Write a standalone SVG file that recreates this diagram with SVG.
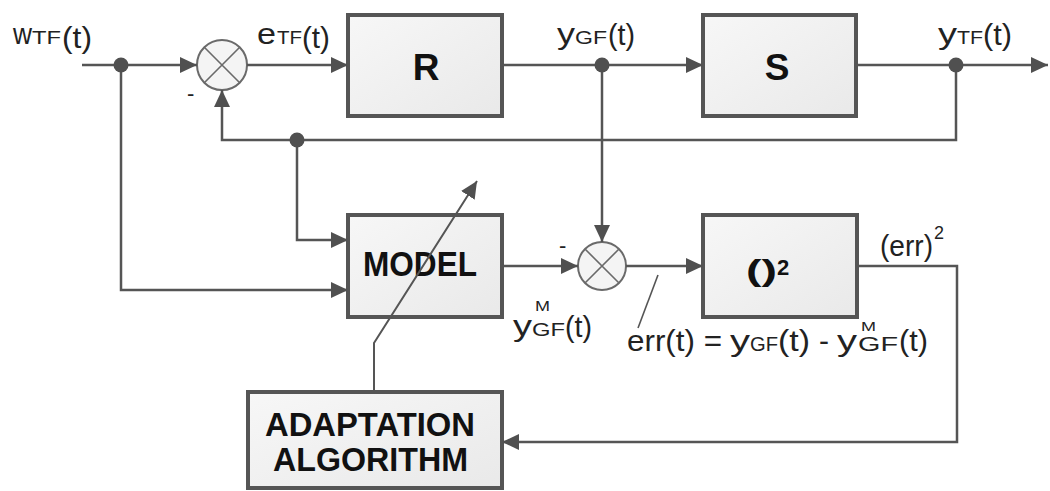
<svg xmlns="http://www.w3.org/2000/svg" width="1050" height="491" viewBox="0 0 1050 491">
<style>
.box{fill:url(#bg);stroke:#555;stroke-width:4}
.ln{fill:none;stroke:#555;stroke-width:2.5}
.ar{marker-end:url(#ah)}
.dot{fill:#505050}
.sum{fill:#f4f4f4;stroke:#6a6a6a;stroke-width:2}
.x{stroke:#6a6a6a;stroke-width:1.6}
.t{font-family:"Liberation Sans",Arial,sans-serif;fill:#222}
.bl{font-family:"Liberation Sans",Arial,sans-serif;font-weight:bold;fill:#111}
</style>
<defs>
<linearGradient id="bg" x1="0" y1="0" x2="1" y2="1">
<stop offset="0" stop-color="#f7f7f7"/>
<stop offset="1" stop-color="#e9e9e9"/>
</linearGradient>
<marker id="ah" markerUnits="userSpaceOnUse" markerWidth="18" markerHeight="16" refX="17" refY="8" orient="auto">
<path d="M0,0 L17,8 L0,16 z" fill="#505050"/>
</marker>
</defs>
<rect width="1050" height="491" fill="#fff"/>

<g id="sum1">
<circle class="sum" cx="222" cy="65" r="25"/>
<path class="x" d="M204.3,47.3 L239.7,82.7 M239.7,47.3 L204.3,82.7"/>
<text class="t" x="187" y="101" font-size="22">-</text>
</g>

<g id="sum2">
<circle class="sum" cx="602" cy="266" r="24"/>
<path class="x" d="M585,249 L619,283 M619,249 L585,283"/>
<text class="t" x="559" y="253" font-size="22">-</text>
</g>

<g id="R">
<rect class="box" x="348" y="15" width="154" height="101"/>
<text class="bl" x="426" y="80" font-size="37" text-anchor="middle">R</text>
</g>

<g id="S">
<rect class="box" x="703" y="15" width="153" height="101"/>
<text class="bl" x="777" y="80" font-size="37" text-anchor="middle">S</text>
</g>

<g id="MODEL">
<rect class="box" x="348" y="215" width="154" height="102"/>
<text class="bl" x="363" y="276" font-size="35" textLength="114" lengthAdjust="spacingAndGlyphs">MODEL</text>
</g>

<g id="SQUARE">
<rect class="box" x="703" y="215" width="154" height="102"/>
<text class="bl" x="746" y="281" font-size="29" textLength="31" lengthAdjust="spacingAndGlyphs">()</text>
<text class="bl" x="777" y="275" font-size="22">2</text>
</g>

<g id="ADAPTATION">
<rect class="box" x="248" y="392" width="254" height="96"/>
<text class="bl" x="265" y="436" font-size="33" textLength="210" lengthAdjust="spacingAndGlyphs">ADAPTATION</text>
<text class="bl" x="273" y="471" font-size="33" textLength="195" lengthAdjust="spacingAndGlyphs">ALGORITHM</text>
</g>

<g id="connectors">
<path class="ln ar" d="M82,65 H197"/>
<path class="ln ar" d="M247,65 H348"/>
<path class="ln ar" d="M502,65 H703"/>
<path class="ln ar" d="M856,65 H1048"/>
<path class="ln ar" d="M956,65 V140 H222 V90"/>
<path class="ln ar" d="M297,140 V240 H348"/>
<path class="ln ar" d="M121,65 V290 H348"/>
<path class="ln ar" d="M602,65 V242"/>
<path class="ln ar" d="M502,266 H578"/>
<path class="ln ar" d="M626,266 H703"/>
<path class="ln ar" d="M857,266 H957 V442 H502"/>
<path class="ln ar" d="M374,392 V343 L477,181" style="stroke-width:2"/>
<path class="ln" d="M658,275 L638,328" style="stroke-width:1.6"/>
<circle class="dot" cx="121" cy="65" r="7.5"/>
<circle class="dot" cx="297" cy="140" r="7.5"/>
<circle class="dot" cx="602" cy="65" r="7.5"/>
<circle class="dot" cx="956" cy="65" r="7.5"/>
</g>

<g id="labels">
<g id="lbl-w">
<text class="t" x="13" y="44" font-size="29" textLength="19" lengthAdjust="spacingAndGlyphs">w</text>
<text class="t" x="32" y="44" font-size="19" textLength="29" lengthAdjust="spacingAndGlyphs">TF</text>
<text class="t" x="62" y="48" font-size="30" textLength="30" lengthAdjust="spacingAndGlyphs">(t)</text>
</g>
<g id="lbl-e">
<text class="t" x="257" y="44" font-size="29" textLength="19" lengthAdjust="spacingAndGlyphs">e</text>
<text class="t" x="277" y="44" font-size="19" textLength="25" lengthAdjust="spacingAndGlyphs">TF</text>
<text class="t" x="302" y="48" font-size="30" textLength="28" lengthAdjust="spacingAndGlyphs">(t)</text>
</g>
<g id="lbl-ygf">
<text class="t" x="557" y="44" font-size="29" textLength="18" lengthAdjust="spacingAndGlyphs">y</text>
<text class="t" x="575" y="44" font-size="19" textLength="32" lengthAdjust="spacingAndGlyphs">GF</text>
<text class="t" x="608" y="45" font-size="30" textLength="27" lengthAdjust="spacingAndGlyphs">(t)</text>
</g>
<g id="lbl-ytf">
<text class="t" x="938" y="44" font-size="29" textLength="19" lengthAdjust="spacingAndGlyphs">y</text>
<text class="t" x="957" y="44" font-size="19" textLength="26" lengthAdjust="spacingAndGlyphs">TF</text>
<text class="t" x="983" y="45" font-size="30" textLength="29" lengthAdjust="spacingAndGlyphs">(t)</text>
</g>
<g id="lbl-ym">
<text class="t" x="513" y="336" font-size="29" textLength="19" lengthAdjust="spacingAndGlyphs">y</text>
<text class="t" x="535" y="311" font-size="14" textLength="15" lengthAdjust="spacingAndGlyphs">M</text>
<text class="t" x="532" y="336" font-size="19" textLength="33" lengthAdjust="spacingAndGlyphs">GF</text>
<text class="t" x="565" y="337" font-size="30" textLength="27" lengthAdjust="spacingAndGlyphs">(t)</text>
</g>
<g id="lbl-err">
<text class="t" x="627" y="351" font-size="30" textLength="95" lengthAdjust="spacingAndGlyphs">err(t) =</text>
<text class="t" x="730" y="351" font-size="30" textLength="20" lengthAdjust="spacingAndGlyphs">y</text>
<text class="t" x="750" y="351" font-size="20" textLength="28" lengthAdjust="spacingAndGlyphs">GF</text>
<text class="t" x="778" y="351" font-size="30" textLength="32" lengthAdjust="spacingAndGlyphs">(t)</text>
<text class="t" x="819" y="351" font-size="30">-</text>
<text class="t" x="837" y="351" font-size="30" textLength="20" lengthAdjust="spacingAndGlyphs">y</text>
<text class="t" x="861" y="331" font-size="13" textLength="15" lengthAdjust="spacingAndGlyphs">M</text>
<text class="t" x="858" y="351" font-size="20" textLength="40" lengthAdjust="spacingAndGlyphs">GF</text>
<text class="t" x="899" y="351" font-size="30" textLength="29" lengthAdjust="spacingAndGlyphs">(t)</text>
</g>
<g id="lbl-err2">
<text class="t" x="880" y="256" font-size="29" textLength="53" lengthAdjust="spacingAndGlyphs">(err)</text>
<text class="t" x="934" y="239" font-size="18">2</text>
</g>
</g>
</svg>
